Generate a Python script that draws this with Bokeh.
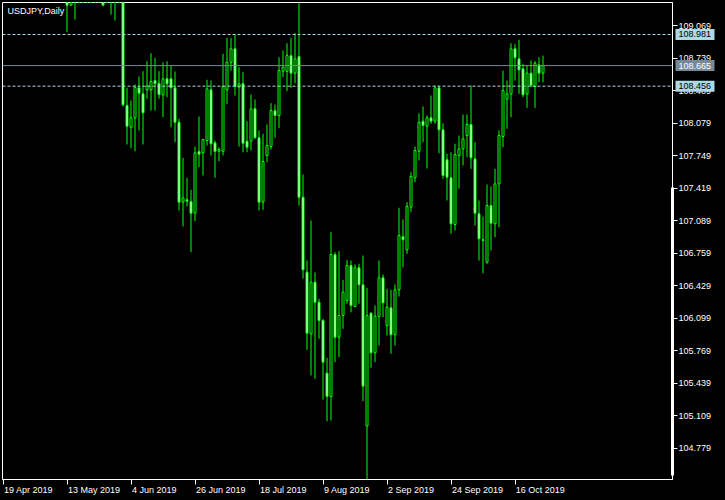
from bokeh.plotting import figure
from bokeh.layouts import row
from bokeh.core.properties import value
from bokeh.models import (ColumnDataSource, FixedTicker, Span, Label, BoxAnnotation,
                          NumeralTickFormatter, CustomJSTickFormatter, Range1d)
from bokeh.embed import file_html
from bokeh.resources import INLINE

chart_title = "USDJPY,Daily"
first_bar = 16  # bars 0-15 (19 Apr - 10 May) lie above the visible price range

opens = [109.95, 109.28, 109.60, 109.58, 109.87, 110.05, 110.05, 110.50, 110.35, 109.60,
         109.35, 109.50, 109.35, 109.62, 109.60, 108.260, 108.039, 108.135, 108.439, 108.378,
         108.419, 108.419, 108.513, 108.486, 108.368, 108.531, 108.531, 108.439, 108.090, 107.278,
         107.302, 107.285, 107.166, 107.792, 107.779, 107.904, 108.419, 107.881, 107.795, 107.795,
         108.419, 108.699, 108.835, 108.446, 108.480, 107.897, 107.897, 108.226, 107.932, 107.278,
         107.752, 107.843, 108.209, 108.158, 108.608, 108.608, 108.767, 108.588, 108.757, 107.328,
         106.567, 105.941, 106.465, 106.262, 106.076, 105.541, 105.304, 106.746, 105.906, 106.127,
         106.279, 106.635, 106.218, 106.611, 106.439, 105.003, 106.150, 105.748, 106.117, 106.510,
         106.025, 106.205, 105.931, 106.388, 106.929, 106.794, 107.227, 107.525, 107.795, 108.100,
         108.049, 108.135, 108.100, 108.439, 108.013, 107.708, 107.525, 107.051, 107.752, 107.820,
         107.955, 108.067, 107.718, 107.160, 106.896, 106.668, 107.244, 107.058, 107.464, 107.945,
         108.324, 108.378, 108.835, 108.734, 108.632, 108.378, 108.588, 108.453, 108.673, 108.588]

highs = [110.00, 109.62, 109.70, 109.95, 110.15, 110.32, 110.65, 110.60, 110.40, 109.72,
         109.62, 109.60, 109.75, 109.92, 109.70, 108.439, 108.310, 108.473, 108.554, 108.608,
         108.710, 108.791, 108.744, 108.608, 108.699, 108.710, 108.666, 108.605, 108.125, 107.728,
         107.525, 107.404, 107.843, 108.148, 107.921, 108.521, 108.513, 107.904, 107.836, 108.785,
         108.947, 108.947, 108.981, 108.649, 108.598, 108.100, 108.371, 108.321, 108.006, 107.972,
         108.067, 108.283, 108.270, 108.750, 108.818, 108.892, 108.943, 108.994, 109.299, 107.559,
         106.685, 107.092, 106.564, 106.296, 106.093, 105.697, 106.973, 106.770, 106.780, 106.489,
         106.692, 106.685, 106.645, 106.652, 106.736, 106.408, 106.160, 106.228, 106.685, 106.543,
         106.398, 106.388, 106.442, 107.221, 107.102, 107.278, 107.582, 107.843, 108.181, 108.250,
         108.158, 108.361, 108.463, 108.463, 108.080, 107.769, 107.785, 107.871, 107.955, 108.168,
         108.168, 108.463, 107.887, 107.295, 107.132, 107.457, 107.437, 107.617, 108.006, 108.615,
         108.513, 108.892, 108.886, 108.927, 108.683, 108.666, 108.717, 108.710, 108.750, 108.767]

lows = [109.004, 109.27, 109.133, 109.48, 109.75, 109.90, 109.95, 110.20, 109.45, 109.265,
        109.33, 109.184, 109.123, 109.45, 108.25, 107.864, 107.826, 107.795, 108.006, 107.864,
        108.328, 108.209, 108.209, 108.328, 108.141, 108.344, 108.039, 107.887, 107.193, 107.031,
        107.234, 106.770, 107.085, 107.633, 107.549, 107.853, 107.752, 107.525, 107.694, 107.752,
        108.277, 108.615, 108.361, 107.843, 107.785, 107.785, 107.803, 107.921, 107.193, 107.200,
        107.684, 107.813, 107.932, 108.029, 108.547, 108.405, 108.439, 108.486, 107.244, 106.500,
        105.778, 105.518, 105.484, 105.890, 105.271, 105.053, 105.060, 105.653, 105.703, 105.992,
        106.246, 106.160, 106.211, 106.246, 105.257, 104.461, 105.596, 105.653, 105.822, 106.110,
        105.924, 105.738, 105.822, 106.320, 106.617, 106.753, 107.176, 107.481, 107.701, 107.887,
        107.620, 108.074, 108.074, 107.775, 107.515, 107.295, 106.957, 106.990, 107.414, 107.650,
        107.735, 107.617, 107.041, 106.685, 106.556, 106.652, 106.787, 106.922, 107.024, 107.836,
        108.023, 108.141, 108.513, 108.378, 108.344, 108.236, 108.446, 108.236, 108.496, 108.496]

closes = [109.278, 109.60, 109.58, 109.87, 110.05, 110.05, 110.50, 110.35, 109.60, 109.28,
          109.50, 109.35, 109.62, 109.60, 108.267, 108.049, 108.135, 108.445, 108.385, 108.185,
          108.460, 108.503, 108.480, 108.371, 108.531, 108.480, 108.439, 108.090, 107.278, 107.322,
          107.288, 107.166, 107.779, 107.765, 107.914, 108.429, 107.871, 107.795, 107.813, 108.453,
          108.699, 108.835, 108.453, 108.480, 107.877, 107.836, 108.226, 107.932, 107.278, 107.691,
          107.853, 108.209, 108.158, 108.615, 108.649, 108.767, 108.588, 108.734, 107.328, 106.591,
          105.947, 106.465, 106.262, 106.076, 105.653, 105.304, 106.746, 105.906, 106.127, 106.363,
          106.635, 106.228, 106.611, 106.439, 105.409, 106.127, 105.748, 106.120, 106.510, 106.256,
          106.211, 105.931, 106.388, 106.939, 106.896, 107.234, 107.539, 107.803, 108.090, 108.057,
          108.135, 108.100, 108.439, 108.013, 107.549, 107.531, 107.058, 107.762, 107.820, 107.921,
          108.067, 107.728, 107.166, 106.906, 106.889, 107.244, 107.064, 107.464, 107.955, 108.412,
          108.378, 108.835, 108.744, 108.622, 108.368, 108.588, 108.463, 108.689, 108.588, 108.665]

date_tick_bars = [0, 16, 32, 48, 64, 80, 96, 112, 128]
date_tick_labels = ["19 Apr 2019", "13 May 2019", "4 Jun 2019", "26 Jun 2019", "18 Jul 2019",
                    "9 Aug 2019", "2 Sep 2019", "24 Sep 2019", "16 Oct 2019"]
price_ticks = [109.069, 108.739, 108.409, 108.079, 107.749, 107.419, 107.089,
               106.759, 106.429, 106.099, 105.769, 105.439, 105.109, 104.779]
level_high = 108.981
level_bid = 108.665
level_low = 108.456

FONT = "Liberation Sans"
LIME = "#00ff00"
LEVEL_BLUE = "#add8e6"
BID_GRAY = "#778899"
PX_PER_BAR = 4
# approximate rendered widths (px) of the date labels, used to left-align them after their tick
DATE_LABEL_WIDTH_PX = [49.0, 52.0, 44.5, 49.5, 46.5, 46.0, 46.0, 51.0, 48.5]

n = len(opens)
bars = list(range(first_bar, first_bar + n))
body_top = [max(o, c) for o, c in zip(opens, closes)]
body_bot = [min(o, c) for o, c in zip(opens, closes)]
fill = ["black" if c >= o else "white" for o, c in zip(opens, closes)]

src = ColumnDataSource(dict(x=bars, high=highs, low=lows, top=body_top, bottom=body_bot, fill=fill))

y_range = Range1d(104.461, 109.306)
p = figure(width=725, height=500, output_backend="svg", toolbar_location=None,
           x_range=Range1d(-0.125, 167.375), y_range=y_range,
           y_axis_location="right", min_border_left=2, min_border_top=2,
           min_border_right=53, min_border_bottom=21,
           background_fill_color="black", border_fill_color="black",
           outline_line_color="white", outline_line_width=1)
p.grid.visible = False

p.segment(x0="x", y0="high", x1="x", y1="low", source=src, line_color=LIME, line_width=1)
p.vbar(x="x", width=0.5, top="top", bottom="bottom", source=src,
       fill_color="fill", line_color=LIME, line_width=1)

# price axis
ya = p.yaxis[0]
ya.ticker = FixedTicker(ticks=price_ticks)
ya.formatter = NumeralTickFormatter(format="0.000")
ya.axis_line_color = "white"
ya.major_tick_line_color = "white"
ya.major_tick_out = 5
ya.major_tick_in = 0
ya.minor_tick_line_color = None
ya.major_label_standoff = 1
ya.major_label_text_color = "white"
ya.major_label_text_font = FONT
ya.major_label_text_font_size = "9px"

# date axis: tick marks at the bars (minor ticks), labels placed to start just after each tick
label_pos = [b + (1 + w / 2) / PX_PER_BAR for b, w in zip(date_tick_bars, DATE_LABEL_WIDTH_PX)]
xa = p.xaxis[0]
xa.ticker = FixedTicker(ticks=label_pos, minor_ticks=date_tick_bars)
xa.formatter = CustomJSTickFormatter(
    args=dict(pos=label_pos, labs=date_tick_labels),
    code="const i = pos.findIndex(v => Math.abs(v - tick) < 1e-6); return i >= 0 ? labs[i] : '';")
xa.axis_line_color = "white"
xa.major_tick_line_color = None
xa.major_tick_out = 0
xa.major_tick_in = 0
xa.minor_tick_line_color = "white"
xa.minor_tick_out = 5
xa.minor_tick_in = 0
xa.major_label_standoff = 0
xa.major_label_text_color = "white"
xa.major_label_text_font = FONT
xa.major_label_text_font_size = "9px"

# horizontal levels
p.add_layout(Span(location=level_high, dimension="width", line_color=LEVEL_BLUE,
                  line_dash="3 2", line_width=1))
p.add_layout(Span(location=level_low, dimension="width", line_color=LEVEL_BLUE,
                  line_dash="3 2", line_width=1))
p.add_layout(Span(location=level_bid, dimension="width", line_color=BID_GRAY, line_width=1))

p.add_layout(BoxAnnotation(left=668.5, right=670, bottom=4, top=292,
                           left_units="screen", right_units="screen",
                           top_units="screen", bottom_units="screen",
                           fill_color="white", fill_alpha=1, line_alpha=0))

p.add_layout(Label(x=5, y=474, x_units="screen", y_units="screen", text=chart_title,
                   text_align="left", text_baseline="top", text_color="white",
                   text_font=FONT, text_font_size="9px"))

# price-scale overlay: level price tags sitting over the right axis
levels = [level_high, level_bid, level_low]
level_text = [f"{v:.3f}" for v in levels]
level_bg = [LEVEL_BLUE, BID_GRAY, LEVEL_BLUE]
level_fg = ["black", "white", "black"]
tag_src = ColumnDataSource(dict(y=levels, text=level_text, bg=level_bg, fg=level_fg))

s = figure(width=53, height=500, output_backend="svg", toolbar_location=None,
           x_range=Range1d(0, 53), y_range=y_range,
           min_border_left=0, min_border_right=0, min_border_top=2, min_border_bottom=21,
           background_fill_alpha=0, border_fill_alpha=0, outline_line_color=None,
           styles={"position": "absolute", "left": "672px", "top": "0px"})
s.axis.visible = False
s.grid.visible = False
s.rect(x=22.5, y="y", width=39, height=11, height_units="screen", source=tag_src,
       fill_color="bg", line_color=None)
s.text(x=6, y="y", text="text", source=tag_src, text_color="fg",
       text_font=value(FONT), text_font_size="9px", text_align="left", text_baseline="middle")
s.add_layout(BoxAnnotation(left=0, right=1.5, bottom=4, top=292,
                           left_units="screen", right_units="screen",
                           top_units="screen", bottom_units="screen",
                           fill_color="white", fill_alpha=1, line_alpha=0))

layout = row(p, s)
html = file_html(layout, INLINE, title=chart_title)
html = html.replace("</head>", "<style>html,body{margin:0;padding:0;background:#000;}</style></head>", 1)
open("out.html", "w").write(html)
